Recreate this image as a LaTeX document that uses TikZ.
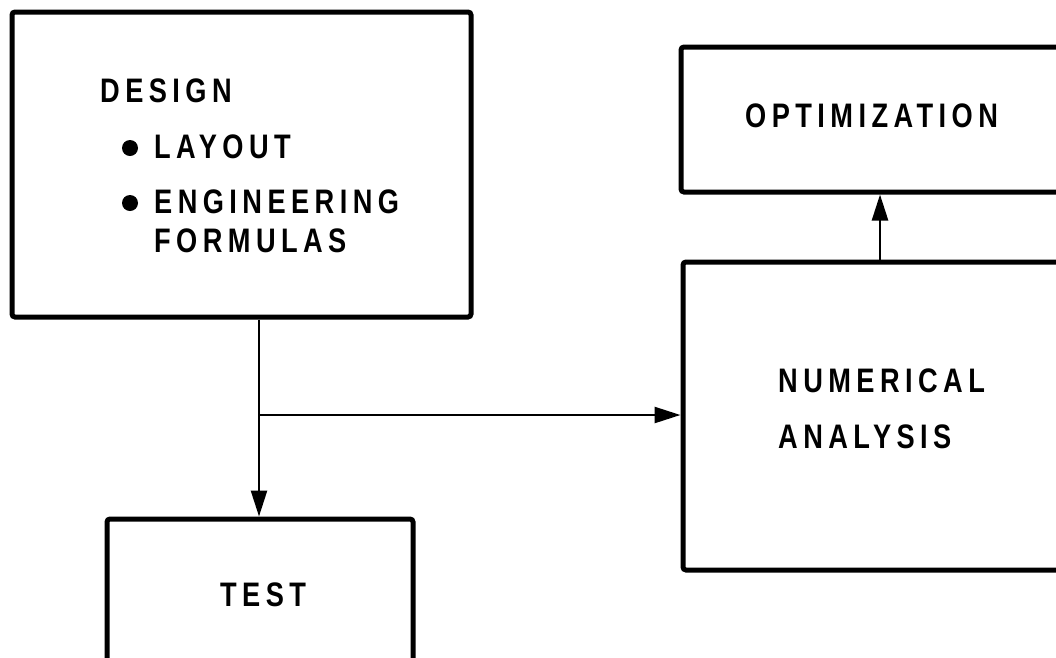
\documentclass[tikz,border=0pt]{standalone}
\usepackage{fontspec}
\newfontfamily\boxfont{Liberation Sans Bold}[FakeStretch=0.8,LetterSpace=16]
\usetikzlibrary{arrows.meta}

\begin{document}
\begin{tikzpicture}[x=1pt,y=-1pt,>={Triangle[length=26pt,width=16pt]},
  block/.style={draw,line width=5pt,rounded corners=3pt,inner sep=0pt},
  lbl/.style={anchor=base west,inner sep=0pt,font=\boxfont\fontsize{34}{40}\selectfont},
  flow/.style={->,line width=2.5pt}]
\clip (0,0) rectangle (1056,657);
\node[block,minimum width=459pt,minimum height=305pt] (design) at (241.5,164.5) {};
\node[block,minimum width=409pt,minimum height=145pt] (optimization) at (885.5,119.5) {};
\node[block,minimum width=407pt,minimum height=308pt] (numerical) at (886.5,416) {};
\node[block,minimum width=306pt,minimum height=181pt] (test) at (260,609.5) {};

\node[lbl] (designtxt) at (100,102) {DESIGN};
\node[lbl] (layouttxt) at (154,158) {LAYOUT};
\node[lbl] (engtxt) at (154,213) {ENGINEERING};
\node[lbl] (formtxt) at (154,252) {FORMULAS};
\fill (130,148) circle (8pt);
\fill (130,203) circle (8pt);
\node[lbl] (opttxt) at (745,127) {OPTIMIZATION};
\node[lbl] (numtxt) at (778,392) {NUMERICAL};
\node[lbl] (anatxt) at (778,448) {ANALYSIS};
\node[lbl] (testtxt) at (220,606) {TEST};

\coordinate (split) at (259,415);
\coordinate (upcol) at (880,0);
\draw[line width=2.5pt] (design.south -| split) -- (split);
\draw[flow] (split) -- (test.north -| split);
\draw[flow] (split) -- (split -| numerical.west);
\draw[flow] (numerical.north -| upcol) -- (optimization.south -| upcol);
\end{tikzpicture}
\end{document}
